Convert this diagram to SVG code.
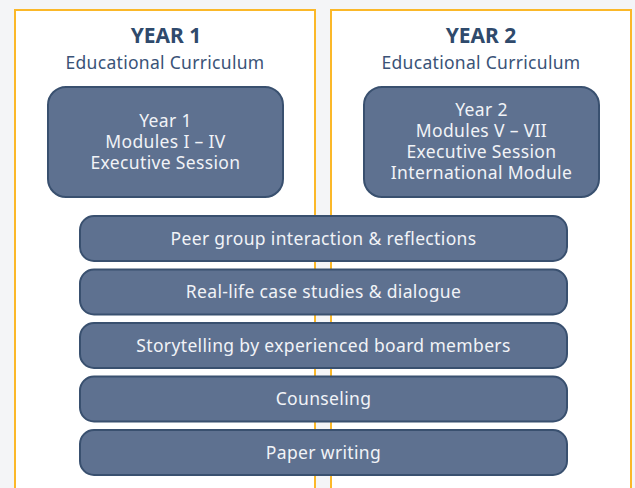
<svg xmlns="http://www.w3.org/2000/svg" width="635" height="488" viewBox="0 0 635 488">
<style>
.panel{fill:#ffffff;stroke:#fbb829;stroke-width:2}
.box{fill:#5e7190;stroke:#39506f;stroke-width:2}
.head{font-family:"Noto Sans",sans-serif;font-size:21px;font-weight:bold;fill:#2f4a6c;text-anchor:middle}
.sub{font-family:"Noto Sans",sans-serif;font-size:17.5px;letter-spacing:0.3px;fill:#3a5377;text-anchor:middle}
.lbl{font-family:"Noto Sans",sans-serif;font-size:17.5px;letter-spacing:0.35px;fill:#f1f3f7;text-anchor:middle}
</style>
<rect x="0" y="0" width="635" height="488" fill="#f4f5f7"/>
<g id="panel-year1">
<rect class="panel" x="15" y="10" width="300" height="490"/>
<text class="head" x="166" y="43">YEAR 1</text>
<text class="sub" x="165" y="69">Educational Curriculum</text>
</g>
<g id="panel-year2">
<rect class="panel" x="331" y="10" width="300" height="490"/>
<text class="head" x="481" y="43">YEAR 2</text>
<text class="sub" x="481" y="69">Educational Curriculum</text>
</g>
<g id="year1-box">
<rect class="box" x="48" y="87" width="235" height="110" rx="18"/>
<text class="lbl" x="165.5" y="127">Year 1</text>
<text class="lbl" x="165.5" y="148">Modules I – IV</text>
<text class="lbl" x="165.5" y="169">Executive Session</text>
</g>
<g id="year2-box">
<rect class="box" x="364" y="87" width="235" height="110" rx="18"/>
<text class="lbl" x="481.5" y="116">Year 2</text>
<text class="lbl" x="481.5" y="137">Modules V – VII</text>
<text class="lbl" x="481.5" y="158">Executive Session</text>
<text class="lbl" x="481.5" y="179">International Module</text>
</g>
<g id="bar-peer">
<rect class="box" x="80" y="216" width="487" height="45" rx="14"/>
<text class="lbl" x="323.5" y="244.5">Peer group interaction &amp; reflections</text>
</g>
<g id="bar-case">
<rect class="box" x="80" y="269.5" width="487" height="45" rx="14"/>
<text class="lbl" x="323.5" y="298">Real-life case studies &amp; dialogue</text>
</g>
<g id="bar-story">
<rect class="box" x="80" y="323" width="487" height="45" rx="14"/>
<text class="lbl" x="323.5" y="351.5">Storytelling by experienced board members</text>
</g>
<g id="bar-counsel">
<rect class="box" x="80" y="376.5" width="487" height="45" rx="14"/>
<text class="lbl" x="323.5" y="405">Counseling</text>
</g>
<g id="bar-paper">
<rect class="box" x="80" y="430" width="487" height="45" rx="14"/>
<text class="lbl" x="323.5" y="458.5">Paper writing</text>
</g>
<g id="connectors"></g>
</svg>
